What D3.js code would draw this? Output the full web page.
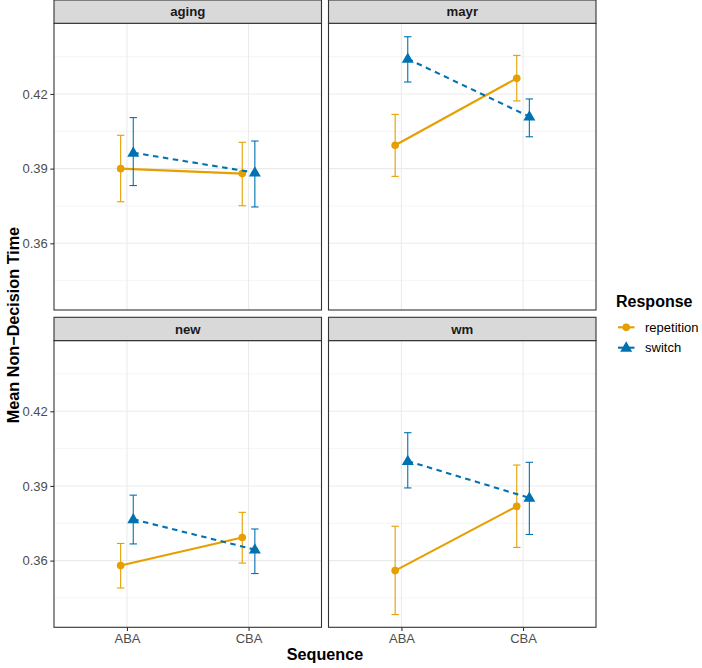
<!DOCTYPE html>
<html>
<head>
<meta charset="utf-8">
<script src="https://cdn.jsdelivr.net/npm/d3@7"></script>
<style>
html,body{margin:0;padding:0;background:#fff;}
text{font-family:"Liberation Sans",Arial,Helvetica,sans-serif;}
</style>
</head>
<body>
<svg id="chart" width="702" height="668"></svg>
<script>
// ---- data ----
const panels = ["aging", "mayr", "new", "wm"];
const sequences = ["ABA", "CBA"];
const responses = ["repetition", "switch"];
const yTicks = [0.36, 0.39, 0.42];
const yMinor = [0.345, 0.375, 0.405, 0.435];

// values indexed [panel][sequence]
const repetitionMean  = [[0.3900, 0.3880], [0.3994, 0.4263], [0.3580, 0.3693], [0.3560, 0.3818]];
const repetitionLower = [[0.3767, 0.3751], [0.3869, 0.4172], [0.3490, 0.3590], [0.3383, 0.3653]];
const repetitionUpper = [[0.4034, 0.4006], [0.4118, 0.4355], [0.3669, 0.3794], [0.3738, 0.3984]];
const switchMean  = [[0.3964, 0.3884], [0.4341, 0.4109], [0.3766, 0.3644], [0.4000, 0.3852]];
const switchLower = [[0.3832, 0.3746], [0.4248, 0.4028], [0.3667, 0.3548], [0.3892, 0.3705]];
const switchUpper = [[0.4105, 0.4011], [0.4430, 0.4180], [0.3863, 0.3727], [0.4114, 0.3995]];

const colors = {repetition: "#E69F00", switch: "#0072B2"};
const seriesData = {
  repetition: {mean: repetitionMean, lo: repetitionLower, hi: repetitionUpper},
  switch: {mean: switchMean, lo: switchLower, hi: switchUpper}
};

// ---- layout ----
const svg = d3.select("#chart");
const colX = [54, 328.5];
const panelW = 267.5;
const rowTop = [0, 317.3];
const stripH = 23.3;
const plotH = 286.7;

const y = d3.scaleLinear().domain([0.3332, 0.4484]).range([plotH, 0]);
const x = d3.scalePoint().domain(sequences).range([0, panelW]).padding(0.6);
const dodge = d3.scaleBand().domain(responses).range([-12.6, 12.6]);
const dodgeOff = r => dodge(r) + dodge.bandwidth() / 2;

panels.forEach((p, i) => {
  const col = i % 2, row = Math.floor(i / 2);
  const gx = colX[col], gy = rowTop[row] + stripH;
  const g = svg.append("g").attr("transform", `translate(${gx},${gy})`);

  g.append("rect").attr("width", panelW).attr("height", plotH).attr("fill", "#fff");
  g.selectAll(".ym").data(yMinor).join("line")
    .attr("x1", 0).attr("x2", panelW).attr("y1", d => y(d)).attr("y2", d => y(d))
    .attr("stroke", "#EBEBEB").attr("stroke-width", 0.55);
  g.selectAll(".yM").data(yTicks).join("line")
    .attr("x1", 0).attr("x2", panelW).attr("y1", d => y(d)).attr("y2", d => y(d))
    .attr("stroke", "#EBEBEB").attr("stroke-width", 1.1);
  g.selectAll(".xM").data(sequences).join("line")
    .attr("x1", d => x(d)).attr("x2", d => x(d)).attr("y1", 0).attr("y2", plotH)
    .attr("stroke", "#EBEBEB").attr("stroke-width", 1.1);

  responses.forEach(r => {
    const s = seriesData[r];
    const pts = sequences.map((sq, j) => ({
      x: x(sq) + dodgeOff(r), m: s.mean[i][j], lo: s.lo[i][j], hi: s.hi[i][j]
    }));
    const eb = g.append("g").attr("stroke", colors[r]).attr("stroke-width", 1.1).attr("fill", "none");
    pts.forEach(d => {
      eb.append("line").attr("x1", d.x).attr("x2", d.x).attr("y1", y(d.lo)).attr("y2", y(d.hi));
      eb.append("line").attr("x1", d.x - 3.7).attr("x2", d.x + 3.7).attr("y1", y(d.lo)).attr("y2", y(d.lo));
      eb.append("line").attr("x1", d.x - 3.7).attr("x2", d.x + 3.7).attr("y1", y(d.hi)).attr("y2", y(d.hi));
    });
    g.append("path").datum(pts)
      .attr("d", d3.line().x(d => d.x).y(d => y(d.m)))
      .attr("fill", "none").attr("stroke", colors[r]).attr("stroke-width", 2.1)
      .attr("stroke-dasharray", r === "switch" ? "5.5,4.5" : null);
    const sym = r === "switch" ? d3.symbolTriangle : d3.symbolCircle;
    const size = r === "switch" ? 62 : 46;
    g.selectAll(null).data(pts).join("path")
      .attr("transform", d => `translate(${d.x},${y(d.m) + (r === "switch" ? 0.5 : 0)})`)
      .attr("d", d3.symbol().type(sym).size(size))
      .attr("fill", colors[r]);
  });

  g.append("rect").attr("width", panelW).attr("height", plotH)
    .attr("fill", "none").attr("stroke", "#333333").attr("stroke-width", 1.1);

  const st = svg.append("g").attr("transform", `translate(${gx},${rowTop[row]})`);
  st.append("rect").attr("width", panelW).attr("height", stripH)
    .attr("fill", "#D9D9D9").attr("stroke", "#333333").attr("stroke-width", 1.1);
  st.append("text").attr("x", panelW / 2).attr("y", stripH / 2 + 4.6)
    .attr("text-anchor", "middle").attr("font-size", 13.2).attr("font-weight", "bold")
    .attr("fill", "#1A1A1A").text(p);

  if (col === 0) {
    const ya = g.append("g").call(d3.axisLeft(y).tickValues(yTicks).tickSize(3.7).tickPadding(2.5).tickFormat(d3.format(".2f")));
    ya.select(".domain").remove();
    ya.selectAll(".tick line").attr("stroke", "#333333").attr("stroke-width", 1.1);
    ya.selectAll(".tick text").attr("fill", "#4D4D4D").attr("font-size", 13)
      .attr("font-family", "'Liberation Sans',Arial,sans-serif");
  }
  if (row === 1) {
    const xa = g.append("g").attr("transform", `translate(0,${plotH})`)
      .call(d3.axisBottom(x).tickSize(3.7).tickPadding(2.5));
    xa.select(".domain").remove();
    xa.selectAll(".tick line").attr("stroke", "#333333").attr("stroke-width", 1.1);
    xa.selectAll(".tick text").attr("fill", "#4D4D4D").attr("font-size", 13)
      .attr("font-family", "'Liberation Sans',Arial,sans-serif");
  }
});

svg.append("text").attr("x", colX[0] + (colX[1] + panelW - colX[0]) / 2).attr("y", 660)
  .attr("text-anchor", "middle").attr("font-size", 16.2).attr("font-weight", "bold").attr("fill", "#000")
  .text("Sequence");
svg.append("text").attr("transform", `translate(18.5,325) rotate(-90)`)
  .attr("text-anchor", "middle").attr("font-size", 16.2).attr("font-weight", "bold").attr("fill", "#000")
  .text("Mean Non\u2212Decision Time");

const lg = svg.append("g").attr("transform", "translate(616,0)");
lg.append("text").attr("x", 0).attr("y", 307).attr("font-size", 16).attr("font-weight", "bold").attr("fill", "#000")
  .text("Response");
responses.forEach((r, k) => {
  const cy = 327.3 + k * 20.4;
  lg.append("line").attr("x1", 2).attr("x2", 18.5).attr("y1", cy).attr("y2", cy)
    .attr("stroke", colors[r]).attr("stroke-width", 2.1);
  lg.append("path").attr("transform", `translate(10.2,${cy + (r === "switch" ? 0.5 : 0)})`)
    .attr("d", d3.symbol().type(r === "switch" ? d3.symbolTriangle : d3.symbolCircle).size(r === "switch" ? 62 : 46))
    .attr("fill", colors[r]);
  lg.append("text").attr("x", 29).attr("y", cy + 4.6).attr("font-size", 13).attr("fill", "#000").text(r);
});
</script>
</body>
</html>
